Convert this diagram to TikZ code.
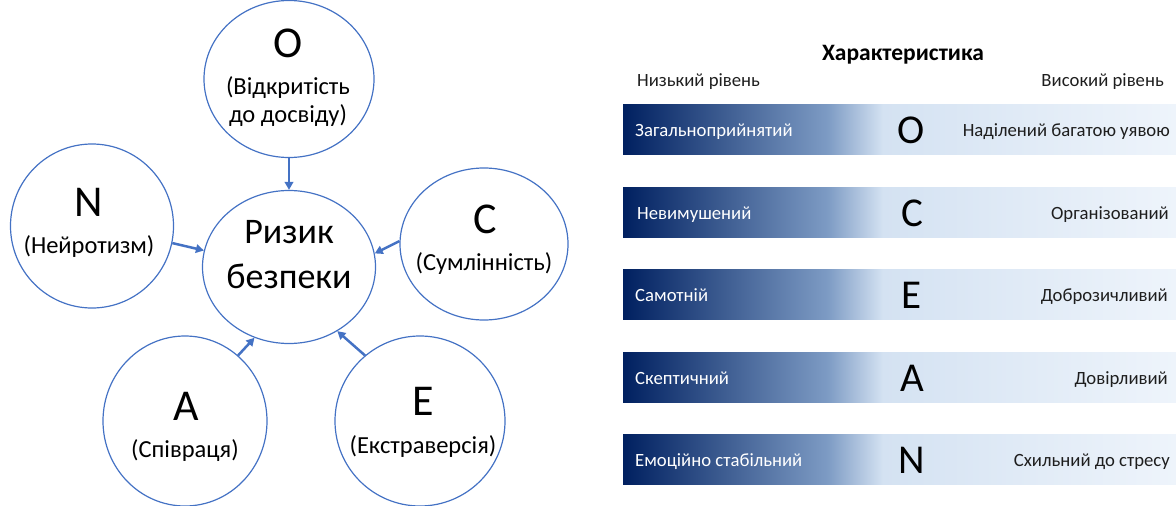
\documentclass[tikz,border=0pt]{standalone}
\usepackage{fontspec}
\setmainfont{Carlito}
\usetikzlibrary{shapes.geometric,arrows.meta}
\definecolor{ringblue}{RGB}{68,114,196}
\definecolor{barA}{RGB}{0,32,96}
\definecolor{barB}{RGB}{125,155,196}
\definecolor{barC}{RGB}{212,226,242}
\definecolor{barD}{RGB}{238,244,251}
\definecolor{txtdark}{RGB}{30,30,30}
\pgfdeclarehorizontalshading{barshade}{100bp}{color(0bp)=(barA); color(25bp)=(barA); color(43.5bp)=(barB); color(48.5bp)=(barC); color(75bp)=(barD); color(100bp)=(barD)}
\tikzset{
  ring/.style={ellipse, draw=ringblue, line width=1.2pt, inner sep=0pt},
  link/.style={draw=ringblue, line width=2.5pt, -{Triangle[length=8pt,width=8.5pt]}},
  bigletter/.style={anchor=base, inner sep=0pt, font=\fontsize{44}{48}\selectfont},
  ringlabel/.style={anchor=base, inner sep=0pt, font=\fontsize{24.5}{28}\selectfont},
  centertxt/.style={anchor=base, inner sep=0pt, font=\fontsize{36}{40}\selectfont},
  barbox/.style={rectangle, minimum width=553pt, minimum height=50pt, inner sep=0pt, shading=barshade},
  lowtxt/.style={anchor=base west, inner sep=0pt, text=white, font=\fontsize{18.7}{22}\selectfont},
  hightxt/.style={anchor=base east, inner sep=0pt, text=txtdark, font=\fontsize{18.7}{22}\selectfont},
  barletter/.style={anchor=base, inner sep=0pt, font=\fontsize{41}{44}\selectfont},
  headtxt/.style={inner sep=0pt, text=txtdark, font=\fontsize{18.7}{22}\selectfont}
}
\begin{document}
\begin{tikzpicture}[x=1pt,y=-1pt]
\useasboundingbox (0,0) rectangle (1176,506);
% circles
\node[ring, minimum width=173pt, minimum height=153pt] (R) at (289,267) {};
\node[ring, minimum width=170pt, minimum height=157pt] (O) at (289,79) {};
\node[ring, minimum width=163pt, minimum height=164pt] (N) at (92,226) {};
\node[ring, minimum width=168pt, minimum height=152pt] (C) at (484,244) {};
\node[ring, minimum width=164pt, minimum height=170pt] (A) at (185,421) {};
\node[ring, minimum width=170pt, minimum height=170pt] (E) at (420,421) {};
% circle texts
\node[centertxt] (Rt1) at (289,243) {Ризик};
\node[centertxt] (Rt2) at (289,288) {безпеки};
\node[bigletter] (Ol) at (288,57) {O};
\node[ringlabel] (Ot1) at (288,94) {(Відкритість};
\node[ringlabel] (Ot2) at (288,122) {до досвіду)};
\node[bigletter] (Nl) at (89,216) {N};
\node[ringlabel] (Nt) at (89,253) {(Нейротизм)};
\node[bigletter] (Cl) at (485,233) {C};
\node[ringlabel] (Ct) at (484,270) {(Сумлінність)};
\node[bigletter] (Al) at (186,420) {A};
\node[ringlabel] (At) at (185,457) {(Співраця)};
\node[bigletter] (El) at (423,415) {E};
\node[ringlabel] (Et) at (423,453) {(Екстраверсія)};
% connectors
\draw[link] (O.south) -- (R.north);
\draw[link] (N.348) -- (R.169);
\draw[link] (C.178) -- (R.9);
\draw[link] (A.51) -- (R.244);
\draw[link] (E.130) -- (R.307);
% right table
\node[inner sep=0pt, anchor=base, text=black, font=\bfseries\fontsize{23.5}{26}\selectfont] (title) at (903,60) {Характеристика};
\node[headtxt, anchor=base west] (low) at (637,86) {Низький рівень};
\node[headtxt, anchor=base east] (high) at (1164,86) {Високий рівень};
\node[barbox] (b1) at (899.5,129) {};
\node[barbox] (b2) at (899.5,212) {};
\node[barbox] (b3) at (899.5,294.5) {};
\node[barbox] (b4) at (899.5,377) {};
\node[barbox] (b5) at (899.5,459.5) {};
\node[lowtxt] (l1) at (635,136) {Загальноприйнятий};
\node[lowtxt] (l2) at (637,219) {Невимушений};
\node[lowtxt] (l3) at (635,301.5) {Самотній};
\node[lowtxt] (l4) at (635,384) {Скептичний};
\node[lowtxt] (l5) at (635,466.5) {Емоційно стабільний};
\node[barletter] (m1) at (911,143) {O};
\node[barletter] (m2) at (912,226) {C};
\node[barletter] (m3) at (912,308.5) {E};
\node[barletter] (m4) at (912,391) {A};
\node[barletter] (m5) at (912,473.5) {N};
\node[hightxt] (h1) at (1170,136) {Наділений багатою уявою};
\node[hightxt] (h2) at (1169,219) {Організований};
\node[hightxt] (h3) at (1168,301.5) {Доброзичливий};
\node[hightxt] (h4) at (1168,384) {Довірливий};
\node[hightxt] (h5) at (1170,466.5) {Схильний до стресу};
\end{tikzpicture}
\end{document}
